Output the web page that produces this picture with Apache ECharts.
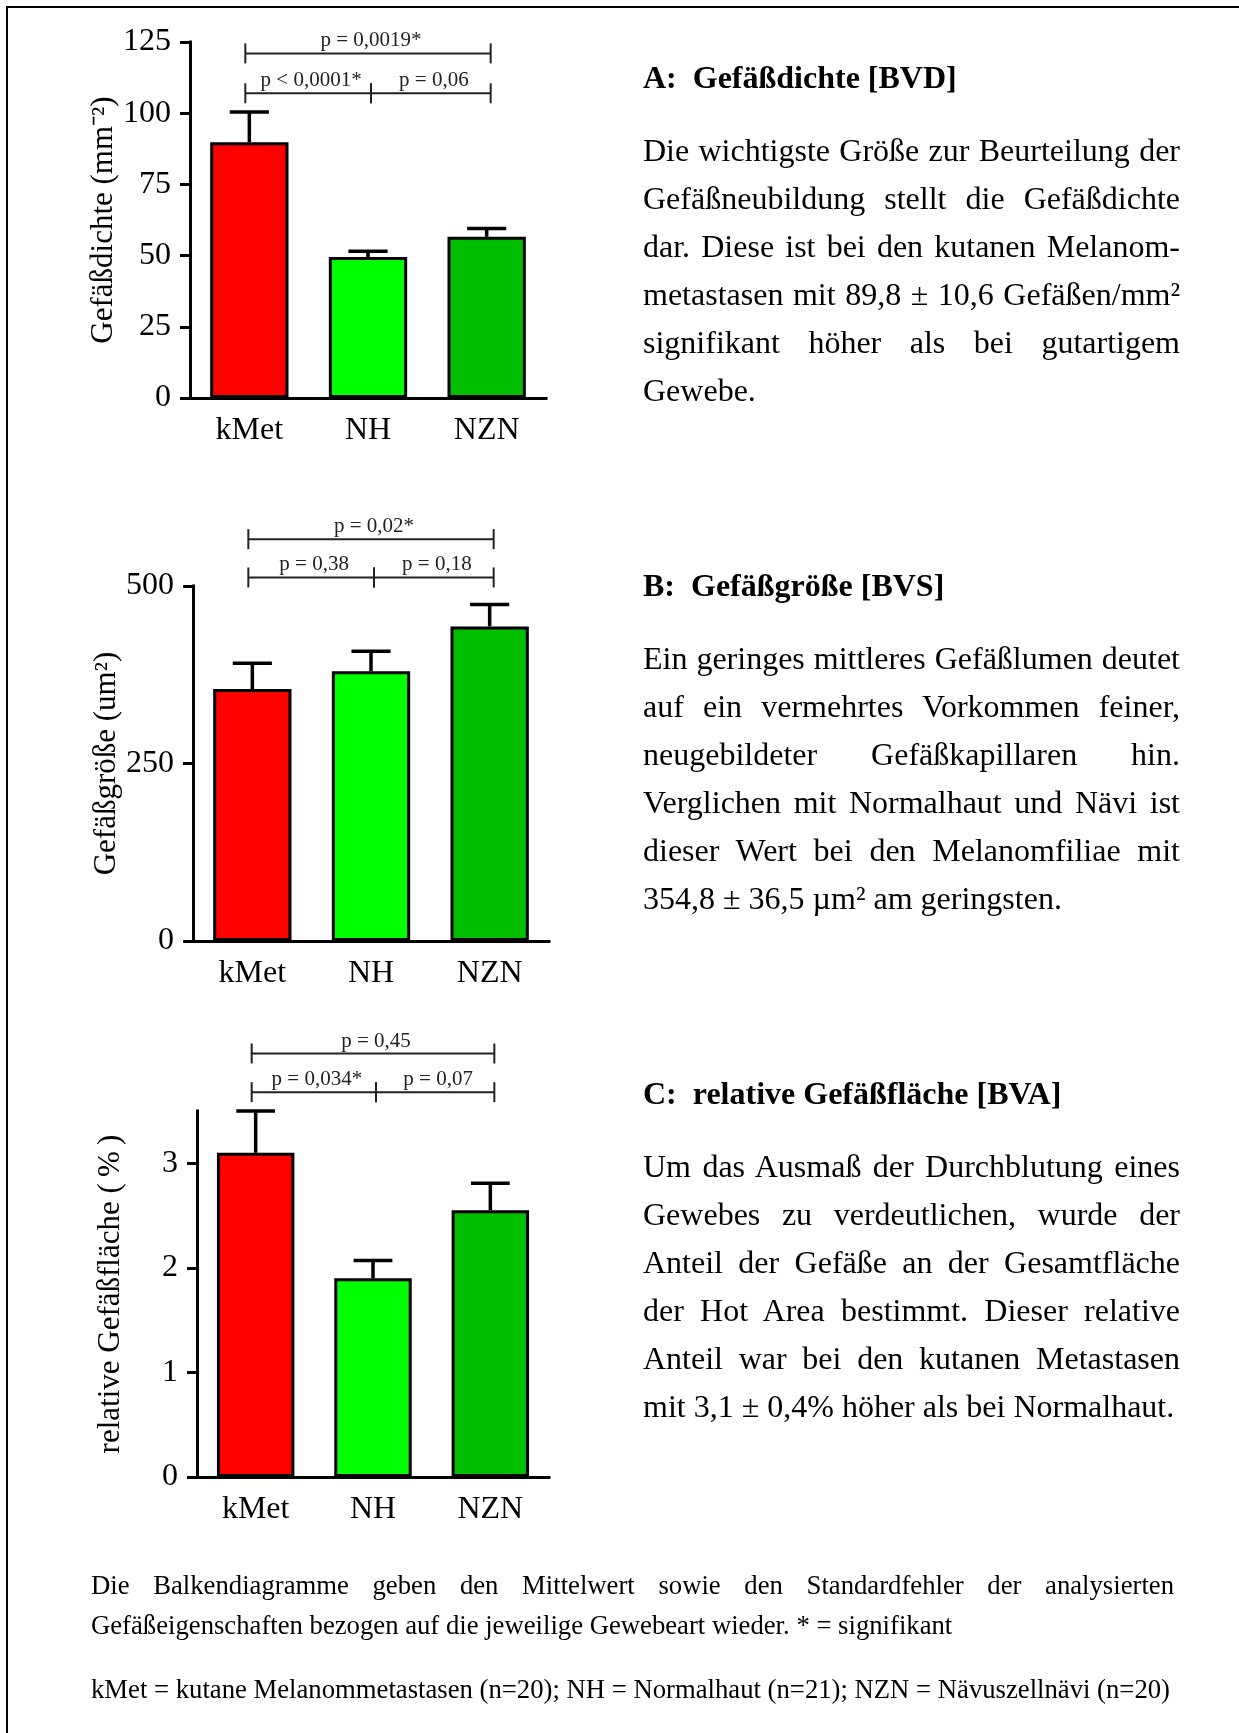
<!DOCTYPE html>
<html>
<head>
<meta charset="utf-8">
<script src="https://cdn.jsdelivr.net/npm/echarts@6/dist/echarts.min.js"></script>
<style>
  html, body { margin: 0; padding: 0; background: #fff; }
  #page {
    position: relative; width: 1239px; height: 1733px; overflow: hidden;
    font-family: 'Liberation Serif', 'Times New Roman', serif; color: #000;
  }
  #chart { position: absolute; left: 0; top: 0; width: 1239px; height: 1733px; }
  .frame {
    position: absolute; left: 6px; top: 6px; right: -10px; bottom: -10px;
    border-top: 2px solid #000; border-left: 2px solid #000;
  }
  .side { position: absolute; left: 643px; width: 537px; font-size: 32px; line-height: 48px; }
  .side .head { font-weight: bold; white-space: pre; margin-bottom: 25px; }
  .ln { text-align: justify; text-align-last: justify; }
  .last { text-align: left; }
  .cap { position: absolute; left: 91px; width: 1083px; font-size: 26.7px; line-height: 40px; }
</style>
</head>
<body>
<div id="page">
  <div id="chart"></div>
  <div class="frame"></div>

  <div class="side" style="top:53px">
    <div class="head">A:  Gefäßdichte [BVD]</div>
    <div class="ln">Die wichtigste Größe zur Beurteilung der</div>
    <div class="ln">Gefäßneubildung stellt die Gefäßdichte</div>
    <div class="ln">dar. Diese ist bei den kutanen Melanom-</div>
    <div class="ln">metastasen mit 89,8 ± 10,6 Gefäßen/mm²</div>
    <div class="ln">signifikant höher als bei gutartigem</div>
    <div class="last">Gewebe.</div>
  </div>

  <div class="side" style="top:561px">
    <div class="head">B:  Gefäßgröße [BVS]</div>
    <div class="ln">Ein geringes mittleres Gefäßlumen deutet</div>
    <div class="ln">auf ein vermehrtes Vorkommen feiner,</div>
    <div class="ln">neugebildeter Gefäßkapillaren hin.</div>
    <div class="ln">Verglichen mit Normalhaut und Nävi ist</div>
    <div class="ln">dieser Wert bei den Melanomfiliae mit</div>
    <div class="last">354,8 ± 36,5 µm² am geringsten.</div>
  </div>

  <div class="side" style="top:1069px">
    <div class="head">C:  relative Gefäßfläche [BVA]</div>
    <div class="ln">Um das Ausmaß der Durchblutung eines</div>
    <div class="ln">Gewebes zu verdeutlichen, wurde der</div>
    <div class="ln">Anteil der Gefäße an der Gesamtfläche</div>
    <div class="ln">der Hot Area bestimmt. Dieser relative</div>
    <div class="ln">Anteil war bei den kutanen Metastasen</div>
    <div class="last">mit 3,1 ± 0,4% höher als bei Normalhaut.</div>
  </div>

  <div class="cap" style="top:1565px">
    <div class="ln">Die Balkendiagramme geben den Mittelwert sowie den Standardfehler der analysierten</div>
    <div class="last">Gefäßeigenschaften bezogen auf die jeweilige Gewebeart wieder. * = signifikant</div>
  </div>
  <div class="cap" style="top:1669px">
    <div class="last">kMet = kutane Melanommetastasen (n=20); NH = Normalhaut (n=21); NZN = Nävuszellnävi (n=20)</div>
  </div>
</div>

<script>
const FONT = "'Liberation Serif', 'Times New Roman', serif"

const categories = ['kMet', 'NH', 'NZN']
const barColors = ['#ff0000', '#00ff00', '#00bf00']
// which groups each p-value bracket compares
const pairs = [[0, 1], [1, 2], [0, 2]]

// A: Gefäßdichte
const densityMean = [89.8, 49.5, 56.6]
const densitySem = [10.6, 2.0, 2.9]
const densityTicks = [0, 25, 50, 75, 100, 125]
const densityP = ['p < 0,0001*', 'p = 0,06', 'p = 0,0019*']
const densityBracket = [107, 107, 121]

// B: Gefäßgröße
const sizeMean = [354.8, 380, 443]
const sizeSem = [36.5, 28, 31]
const sizeTicks = [0, 250, 500]
const sizeP = ['p = 0,38', 'p = 0,18', 'p = 0,02*']
const sizeBracket = [512, 512, 566]

// C: relative Gefäßfläche
const areaMean = [3.1, 1.9, 2.55]
const areaSem = [0.4, 0.17, 0.26]
const areaTicks = [0, 1, 2, 3]
const areaP = ['p = 0,034*', 'p = 0,07', 'p = 0,45']
const areaBracket = [3.68, 3.68, 4.05]

const panels = [
  { grid: { left: 190, top: 42, width: 356, height: 356 }, title: 'Gefäßdichte (mm⁻²)',
    max: 125, interval: 25, ticks: densityTicks, mean: densityMean, sem: densitySem, p: densityP, bracket: densityBracket },
  { grid: { left: 193, top: 586, width: 356, height: 355 }, title: 'Gefäßgröße (um²)',
    max: 500, interval: 250, ticks: sizeTicks, mean: sizeMean, sem: sizeSem, p: sizeP, bracket: sizeBracket },
  { grid: { left: 197, top: 1111, width: 352, height: 366 }, title: 'relative Gefäßfläche (\u2009%\u2009)',
    max: 3.5, interval: 1, ticks: areaTicks, mean: areaMean, sem: areaSem, p: areaP, bracket: areaBracket }
]

const grid = []
const xAxis = []
const yAxis = []
const series = []

panels.forEach((pn, k) => {
  grid.push(pn.grid)

  xAxis.push({
    type: 'category',
    gridIndex: k,
    data: categories,
    axisLine: { lineStyle: { color: '#000', width: 3, cap: 'square' } },
    axisTick: { alignWithLabel: true, length: 12, lineStyle: { color: '#000', width: 3 } },
    axisLabel: { color: '#000', fontFamily: FONT, fontSize: 32, margin: 17 }
  })

  yAxis.push({
    type: 'value',
    gridIndex: k,
    min: 0,
    max: pn.max,
    interval: pn.interval,
    name: pn.title,
    nameLocation: 'middle',
    nameGap: 71,
    nameTextStyle: { color: '#000', fontFamily: FONT, fontSize: 31 },
    axisLine: { show: true, lineStyle: { color: '#000', width: 3, cap: 'square' } },
    axisTick: { show: true, length: 10, customValues: pn.ticks, lineStyle: { color: '#000', width: 3 } },
    axisLabel: { color: '#000', fontFamily: FONT, fontSize: 32, margin: 19, customValues: pn.ticks },
    splitLine: { show: false }
  })

  series.push({
    type: 'bar',
    xAxisIndex: k,
    yAxisIndex: k,
    barWidth: '66%',
    data: pn.mean.map((v, i) => ({
      value: v,
      itemStyle: { color: barColors[i], borderColor: '#000', borderWidth: 3 }
    })),
    z: 3
  })

  // upper error bar (SEM)
  series.push({
    type: 'custom',
    xAxisIndex: k,
    yAxisIndex: k,
    data: pn.mean.map((v, i) => [i, v, v + pn.sem[i]]),
    renderItem: (params, api) => {
      const base = api.coord([api.value(0), api.value(1)])
      const top = api.coord([api.value(0), api.value(2)])
      const half = api.size([1, 0])[0] * 0.66 / 4
      const st = { stroke: '#000', lineWidth: 3.5 }
      return {
        type: 'group',
        children: [
          { type: 'line', shape: { x1: base[0], y1: base[1], x2: top[0], y2: top[1] }, style: st },
          { type: 'line', shape: { x1: top[0] - half, y1: top[1], x2: top[0] + half, y2: top[1] }, style: st }
        ]
      }
    },
    z: 2
  })

  // significance brackets
  series.push({
    type: 'custom',
    xAxisIndex: k,
    yAxisIndex: k,
    clip: false,
    data: pairs.map((pr, j) => [pr[0], pr[1], pn.bracket[j]]),
    renderItem: (params, api) => {
      const a = api.coord([api.value(0), api.value(2)])
      const b = api.coord([api.value(1), api.value(2)])
      // outer ends of the brackets sit a little outside the bar centres
      const ax = a[0] - (api.value(0) === 0 ? 4 : -3)
      const bx = b[0] + (api.value(1) === 2 ? 4 : 3)
      const st = { stroke: '#222', lineWidth: 2 }
      return {
        type: 'group',
        children: [
          { type: 'line', shape: { x1: ax, y1: a[1], x2: bx, y2: b[1] }, style: st },
          { type: 'line', shape: { x1: ax, y1: a[1] - 10, x2: ax, y2: a[1] + 10 }, style: st },
          { type: 'line', shape: { x1: bx, y1: b[1] - 10, x2: bx, y2: b[1] + 10 }, style: st },
          {
            type: 'text',
            x: (ax + bx) / 2 + 3,
            y: a[1] - 2,
            style: {
              text: pn.p[params.dataIndex], fill: '#222', font: '21px ' + FONT,
              align: 'center', verticalAlign: 'bottom'
            }
          }
        ]
      }
    },
    z: 4
  })
})

const chart = echarts.init(document.getElementById('chart'))
chart.setOption({
  backgroundColor: '#fff',
  animation: false,
  grid,
  xAxis,
  yAxis,
  series
})
</script>
</body>
</html>
